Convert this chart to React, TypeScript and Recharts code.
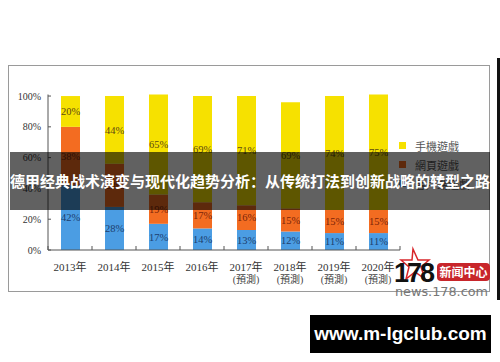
import React from "react";
import { BarChart, Bar, XAxis, YAxis, LabelList } from "recharts";

// values (percent share per year)
const years = ["2013年", "2014年", "2015年", "2016年", "2017年", "2018年", "2019年", "2020年"];
const forecast = [false, false, false, false, true, true, true, true];
const clientGame = [42, 28, 17, 14, 13, 12, 11, 11];
const webGame = [38, 28, 19, 17, 16, 15, 15, 15];
const mobileGame = [20, 44, 65, 69, 71, 69, 74, 75];
const yTicks = [0, 20, 40, 60, 80, 100];

const SERIES = [
  { key: "mobile", name: "手機遊戲", color: "#f6e100", label: "#5e4a12" },
  { key: "web", name: "網頁遊戲", color: "#f36c21", label: "#7a2408" },
  { key: "client", name: "客戶端遊戲", color: "#4b9de3", label: "#1d3d6e" },
];

const data = years.map((y, i) => ({
  year: y,
  client: clientGame[i],
  web: webGame[i],
  mobile: mobileGame[i],
}));

const serif = "'Liberation Serif', 'Noto Sans CJK TC', serif";

const YTick = ({ x, y, payload }: any) => (
  <g>
    <text x={x + 1} y={y} dy={3.5} textAnchor="end" fontSize={10} fill="#333" fontFamily={serif}>
      {payload.value}%
    </text>
    <line x1={48} x2={51} y1={y} y2={y} stroke="#555" />
  </g>
);

const XTick = ({ x, y, payload, index }: any) => (
  <g>
    <line x1={x - 22} x2={x - 22} y1={250} y2={246} stroke="#555" />
    {index === years.length - 1 && <line x1={x + 22} x2={x + 22} y1={250} y2={246} stroke="#555" />}
    <text x={x} y={y + 13} textAnchor="middle" fontSize={11} fill="#333" fontFamily={serif}>
      {payload.value}
    </text>
    {forecast[index] && (
      <text x={x} y={y + 25} textAnchor="middle" fontSize={10} fill="#444" fontFamily={serif}>
        (預測)
      </text>
    )}
  </g>
);

export default function App() {
  return (
    <div style={{ position: "absolute", left: 0, top: 0, width: 500, height: 362, background: "#fff", overflow: "hidden" }}>
      <div style={{ position: "absolute", left: 8, top: 65, width: 480, height: 225, border: "1.5px solid #9a9a9a" }} />
      <div style={{ position: "absolute", left: 497, top: 58, width: 3, height: 242, background: "#111" }} />

      <div style={{ position: "absolute", left: 0, top: 0 }}>
        <BarChart width={500} height={362} data={data} margin={{ top: 94.5, right: 100, bottom: 82, left: 0 }}>
          <XAxis
            dataKey="year"
            height={30}
            tickLine={false}
            axisLine={{ stroke: "#555" }}
            tick={<XTick />}
            interval={0}
          />
          <YAxis
            width={48}
            domain={[0, 101]}
            ticks={yTicks}
            tickLine={false}
            axisLine={{ stroke: "#555" }}
            tick={<YTick />}
          />
          {[...SERIES].reverse().map((s) => (
            <Bar key={s.key} dataKey={s.key} name={s.name} stackId="a" fill={s.color} barSize={19} isAnimationActive={false}>
              <LabelList
                dataKey={s.key}
                position="center"
                formatter={(v: any) => `${v}%`}
                fill={s.label}
                fontSize={10.5}
                fontFamily={serif}
              />
            </Bar>
          ))}
        </BarChart>
      </div>

      {/* legend */}
      <div style={{ position: "absolute", left: 399, top: 136, fontFamily: serif, fontSize: 11, color: "#555" }}>
        {SERIES.map((s) => (
          <div key={s.key} style={{ display: "flex", alignItems: "center", height: 19 }}>
            <span style={{ width: 7, height: 7, background: s.color, marginRight: 9 }} />
            <span>{s.name}</span>
          </div>
        ))}
      </div>

      <div
        style={{
          position: "absolute",
          left: 10,
          top: 152,
          width: 480,
          height: 58,
          background: "rgba(0,0,0,0.62)",
          color: "#fff",
          fontFamily: "'Noto Sans CJK SC', sans-serif",
          fontWeight: 700,
          fontSize: 15,
          lineHeight: "58px",
          textAlign: "center",
          whiteSpace: "nowrap",
        }}
      >
        德甲经典战术演变与现代化趋势分析：从传统打法到创新战略的转型之路
      </div>

      {/* 178 news logo */}
      <svg style={{ position: "absolute", left: 392, top: 246 }} width={100} height={54}>
        <polygon
          points="21,3 26,14 37,14 29,21 33,33 23,26 14,33 17,21 9,14 20,14"
          fill="none"
          stroke="#d8262a"
          strokeWidth={1.5}
        />
        <text x={2} y={36} fontSize={27} fontWeight={700} fill="#111" fontFamily="'Liberation Sans', sans-serif" letterSpacing={-2}>
          178
        </text>
        <rect x={45} y={17} width={53} height={18} rx={4} fill="#c8262b" />
        <text x={71.5} y={30.5} textAnchor="middle" fontSize={12} fontWeight={700} fill="#fff" fontFamily="'Noto Sans CJK SC', sans-serif">
          新闻中心
        </text>
        <text x={3} y={50} fontSize={13} fill="#777" fontFamily="'DejaVu Sans', sans-serif" textLength={93} lengthAdjust="spacingAndGlyphs">
          news.178.com
        </text>
      </svg>

      <div
        style={{
          position: "absolute",
          left: 310,
          top: 315,
          width: 181,
          height: 38,
          background: "#000",
          color: "#fff",
          fontFamily: "'Liberation Sans', Arial, sans-serif",
          fontWeight: 700,
          fontSize: 19,
          lineHeight: "38px",
          textAlign: "center",
        }}
      >
        www.m-lgclub.com
      </div>
    </div>
  );
}
